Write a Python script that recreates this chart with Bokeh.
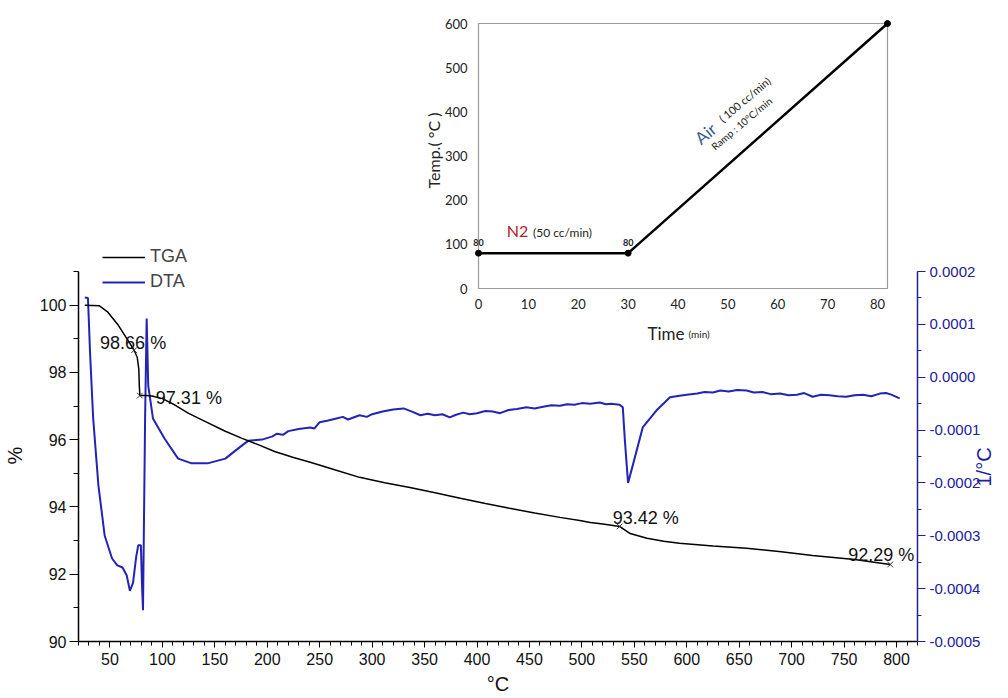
import math
from bokeh.plotting import figure
from bokeh.models import (Range1d, LinearAxis, SingleIntervalTicker, FixedTicker,
                          PrintfTickFormatter, Legend, LegendItem)
from bokeh.core.properties import value
from bokeh.embed import file_html
from bokeh.resources import INLINE

# ---------------- data ----------------
tga_temp = [26, 40, 48, 58, 67, 73, 76, 77.5, 78, 78.5, 85, 90, 100, 112, 125, 143.5, 160, 176,
            193, 207, 225, 241, 265, 288, 312, 336, 360, 384, 408, 431, 455, 479, 498, 508, 520,
            536, 546, 562, 578, 593, 625, 657, 690, 720, 760, 794]
tga_pct = [100.0, 99.98, 99.79, 99.40, 98.96, 98.66, 98.45, 98.1, 97.6, 97.31, 97.31, 97.30,
           97.22, 97.03, 96.78, 96.50, 96.25, 96.04, 95.83, 95.65, 95.47, 95.33, 95.10, 94.88,
           94.72, 94.58, 94.42, 94.26, 94.10, 93.96, 93.82, 93.69, 93.60, 93.54, 93.49, 93.42,
           93.21, 93.07, 92.98, 92.92, 92.84, 92.77, 92.67, 92.56, 92.44, 92.29]

dta_temp = [26, 29, 30, 31, 34, 39, 45, 52, 57, 62, 66, 69, 72, 75, 77, 79.5, 80.5, 81.5, 83.5,
            85, 86.5, 91, 102, 115, 128, 143, 160, 176, 182, 195, 205, 209, 215, 220, 230, 241,
            245, 250, 258, 266, 272, 277, 288, 295, 300, 310, 320, 330, 338, 346, 353, 360, 367,
            374, 380, 387, 393, 400, 408, 415, 422, 430, 438, 447, 455, 463, 471, 479, 486, 493,
            500, 508, 517, 523, 528, 536, 539, 541, 544, 549, 558, 571, 584, 593, 600, 610, 617,
            625, 632, 640, 648, 657, 664, 672, 680, 689, 697, 705, 712, 720, 728, 736, 744, 752,
            760, 768, 776, 784, 790, 795, 803]
dta_val = [1.51e-4, 1.50e-4, 1.0e-4, 0.47e-4, -0.78e-4, -2.05e-4, -3.0e-4, -3.43e-4, -3.56e-4,
           -3.60e-4, -3.75e-4, -4.04e-4, -3.89e-4, -3.4e-4, -3.18e-4, -3.18e-4, -3.9e-4, -4.41e-4,
           -0.78e-4, 1.11e-4, -0.16e-4, -0.78e-4, -1.16e-4, -1.54e-4, -1.63e-4, -1.63e-4,
           -1.54e-4, -1.29e-4, -1.20e-4, -1.18e-4, -1.12e-4, -1.07e-4, -1.09e-4, -1.02e-4,
           -0.98e-4, -0.95e-4, -0.97e-4, -0.85e-4, -0.82e-4, -0.78e-4, -0.75e-4, -0.80e-4,
           -0.72e-4, -0.75e-4, -0.70e-4, -0.65e-4, -0.61e-4, -0.59e-4, -0.65e-4, -0.72e-4,
           -0.69e-4, -0.72e-4, -0.70e-4, -0.76e-4, -0.71e-4, -0.67e-4, -0.70e-4, -0.68e-4,
           -0.64e-4, -0.65e-4, -0.68e-4, -0.62e-4, -0.60e-4, -0.57e-4, -0.59e-4, -0.56e-4,
           -0.53e-4, -0.54e-4, -0.51e-4, -0.52e-4, -0.49e-4, -0.50e-4, -0.48e-4, -0.51e-4,
           -0.50e-4, -0.52e-4, -0.57e-4, -1.2e-4, -2.0e-4, -1.63e-4, -0.95e-4, -0.63e-4,
           -0.38e-4, -0.35e-4, -0.33e-4, -0.31e-4, -0.28e-4, -0.29e-4, -0.25e-4, -0.27e-4,
           -0.24e-4, -0.25e-4, -0.29e-4, -0.28e-4, -0.32e-4, -0.31e-4, -0.34e-4, -0.33e-4,
           -0.30e-4, -0.37e-4, -0.33e-4, -0.34e-4, -0.36e-4, -0.37e-4, -0.34e-4, -0.33e-4,
           -0.36e-4, -0.31e-4, -0.30e-4, -0.33e-4, -0.40e-4]

mark_temp = [73, 78.5, 536, 794]
mark_pct = [98.66, 97.31, 93.42, 92.29]
mark_text = ["98.66 %", "97.31 %", "93.42 %", "92.29 %"]

prog_time = [0, 30, 82]
prog_temp = [80, 80, 600]
prog_point_text = ["80", "80"]

inset_y_ticks = [0, 100, 200, 300, 400, 500, 600]
inset_x_ticks = [0, 10, 20, 30, 40, 50, 60, 70, 80]

# ---------------- layout constants ----------------
W, H = 1008, 698
FL, FR, FT, FB = 78, 917, 10, 641          # main frame pixel edges
X0, X1 = 20, 820
Y0, YAX = 90, 101
YAX_TOP_PX = 271
D0, DAX = -0.0005, 0.0002
IL, IR, IT, IB = 478, 887, 23, 288          # inset frame pixel edges
IX0, IX1, IY0, IY1 = 0, 82, 0, 600

BLUE = "#2323b5"
AXBLUE = "#20209c"
MAIN_FONT = "Liberation Sans"
INSET_FONT = "Lato"

sx = (FR - FL) / (X1 - X0)
sy = (FB - YAX_TOP_PX) / (YAX - Y0)
y_end = YAX + (YAX_TOP_PX - FT) / sy
sd = (FB - YAX_TOP_PX) / (DAX - D0)
d_end = DAX + (YAX_TOP_PX - FT) / sd
isx = (IR - IL) / (IX1 - IX0)
isy = (IB - IT) / (IY1 - IY0)
ix_start = IX0 - (IL - FL) / isx
ix_end = IX1 + (FR - IR) / isx
iy_start = IY0 - (FB - IB) / isy
iy_end = IY1 + (IT - FT) / isy


def my(py):
    return Y0 + (FB - py) / sy


def dy(py):
    return D0 + (FB - py) / sd


def ixp(px):
    return IX0 + (px - IL) / isx


def iyp(py):
    return IY0 + (IB - py) / isy


p = figure(width=W, height=H, x_range=Range1d(X0, X1), y_range=Range1d(Y0, y_end),
           output_backend="svg", toolbar_location=None,
           min_border_left=FL, min_border_right=W - FR, min_border_top=FT,
           min_border_bottom=H - FB)
p.extra_y_ranges = {"dta": Range1d(D0, d_end), "iy": Range1d(iy_start, iy_end)}
p.extra_x_ranges = {"ix": Range1d(ix_start, ix_end)}
p.grid.visible = False
p.outline_line_color = None
p.background_fill_color = "white"
p.border_fill_color = "white"

# bottom axis
xa = p.xaxis[0]
xa.ticker = SingleIntervalTicker(interval=50, num_minor_ticks=5)
xa.axis_line_width = 1.5
xa.major_tick_out = 6
xa.major_tick_in = 0
xa.minor_tick_out = 4
xa.minor_tick_in = 0
xa.major_label_standoff = 5
xa.major_label_text_font = MAIN_FONT
xa.major_label_text_font_size = "16px"
xa.major_label_text_color = "#111111"
xa.axis_label = "°C"
xa.axis_label_standoff = 5
xa.axis_label_text_font = MAIN_FONT
xa.axis_label_text_font_size = "20px"
xa.axis_label_text_font_style = "normal"
xa.axis_label_text_color = "#111111"

# left axis
ya = p.yaxis[0]
ya.ticker = SingleIntervalTicker(interval=2, num_minor_ticks=2)
ya.bounds = (Y0, YAX)
ya.axis_line_width = 1.5
ya.major_tick_out = 9
ya.major_tick_in = 0
ya.minor_tick_out = 5
ya.minor_tick_in = 0
ya.major_label_standoff = 3
ya.major_label_text_font = MAIN_FONT
ya.major_label_text_font_size = "16px"
ya.major_label_text_color = "#111111"

# right axis
ra = LinearAxis(y_range_name="dta",
                ticker=SingleIntervalTicker(interval=0.0001, num_minor_ticks=2),
                formatter=PrintfTickFormatter(format="%.4f"), bounds=(D0, DAX))
ra.axis_line_color = AXBLUE
ra.axis_line_width = 1.5
ra.major_tick_line_color = AXBLUE
ra.minor_tick_line_color = AXBLUE
ra.major_tick_out = 8
ra.major_tick_in = 0
ra.minor_tick_out = 4
ra.minor_tick_in = 0
ra.major_label_standoff = 4
ra.major_label_text_font = MAIN_FONT
ra.major_label_text_font_size = "15px"
ra.major_label_text_color = AXBLUE
p.add_layout(ra, "right")


# axis titles: one-tick axes so that each title sits where the reference shows it
def title_axis(range_name, tick, text, color, orientation, standoff):
    ax = LinearAxis(y_range_name=range_name, ticker=FixedTicker(ticks=[tick], minor_ticks=[]),
                    major_label_overrides={tick: text})
    ax.axis_line_color = None
    ax.major_tick_line_color = None
    ax.minor_tick_line_color = None
    ax.major_tick_out = 0
    ax.major_tick_in = 0
    ax.minor_tick_out = 0
    ax.minor_tick_in = 0
    ax.major_label_standoff = standoff
    ax.major_label_orientation = orientation
    ax.major_label_text_font = MAIN_FONT
    ax.major_label_text_font_size = "20px"
    ax.major_label_text_color = color
    return ax


p.add_layout(title_axis("default", my(455), "%", "#111111", "vertical", 11), "left")
p.add_layout(title_axis("dta", dy(486), "1/°C", AXBLUE, math.pi / 2, 0), "right")

# curves
r_dta = p.line(dta_temp, dta_val, y_range_name="dta", line_color=BLUE, line_width=2)
r_tga = p.line(tga_temp, tga_pct, line_color="black", line_width=1.5)
p.scatter(mark_temp, mark_pct, marker="x", size=8, line_color="#333333", line_width=1)
p.text(x=mark_temp, y=mark_pct, text=mark_text,
       x_offset=[-34, 16, -7, -42], y_offset=[-7, 2, -8, -9],
       text_font=value(MAIN_FONT), text_font_size="18px", text_color="#111111",
       text_align="left", text_baseline="alphabetic")

# legend
legend = Legend(items=[LegendItem(label="TGA", renderers=[r_tga]),
                       LegendItem(label="DTA", renderers=[r_dta])],
                location=(24, 349), padding=0, margin=0, spacing=4,
                glyph_width=43, glyph_height=20, label_standoff=5,
                label_text_font=MAIN_FONT, label_text_font_size="18px",
                border_line_color=None, background_fill_alpha=0)
p.add_layout(legend)

# ---------------- inset ----------------
p.quad(left=[IX0], right=[IX1], bottom=[IY0], top=[IY1], x_range_name="ix", y_range_name="iy",
       fill_color="white", line_color="#9a9a9a", line_width=1.2)
p.line(prog_time, prog_temp, x_range_name="ix", y_range_name="iy", line_color="black",
       line_width=2.5)
p.scatter(prog_time, prog_temp, x_range_name="ix", y_range_name="iy", size=6, color="black")
p.text(x=prog_time[:2], y=prog_temp[:2], text=prog_point_text, x_range_name="ix",
       y_range_name="iy", y_offset=-7, text_align="center", text_baseline="bottom",
       text_font=value(INSET_FONT), text_font_size="9px", text_font_style="bold",
       text_color="#222222")
p.text(x=[IX0] * len(inset_y_ticks), y=inset_y_ticks, text=[str(v) for v in inset_y_ticks],
       x_range_name="ix", y_range_name="iy", x_offset=-11, text_align="right",
       text_baseline="middle", text_font=value(INSET_FONT), text_font_size="13px",
       text_color="#222222")
p.text(x=inset_x_ticks, y=[IY0] * len(inset_x_ticks), text=[str(v) for v in inset_x_ticks],
       x_range_name="ix", y_range_name="iy", y_offset=10, text_align="center",
       text_baseline="top", text_font=value(INSET_FONT), text_font_size="13px",
       text_color="#222222")
p.text(x=[ixp(433)], y=[iyp(150)], text=["Temp.( °C )"], x_range_name="ix", y_range_name="iy",
       angle=math.pi / 2, text_align="center", text_baseline="middle",
       text_font=value(INSET_FONT), text_font_size="16px", text_color="#222222")
p.text(x=[ixp(684)], y=[iyp(333)], text=["Time"], x_range_name="ix", y_range_name="iy",
       text_align="right", text_baseline="alphabetic", text_font=value(INSET_FONT),
       text_font_size="17px", text_color="#222222")
p.text(x=[ixp(688)], y=[iyp(333)], text=["(min)"], x_range_name="ix", y_range_name="iy",
       text_align="left", text_baseline="alphabetic", text_font=value(INSET_FONT),
       text_font_size="10px", text_color="#222222")
p.text(x=[ixp(517)], y=[iyp(230)], text=["N2"], x_range_name="ix", y_range_name="iy",
       text_align="center", text_baseline="middle", text_font=value(INSET_FONT),
       text_font_size="16px", text_color="#b3202a")
p.text(x=[ixp(562)], y=[iyp(232)], text=["(50 cc/min)"], x_range_name="ix", y_range_name="iy",
       text_align="center", text_baseline="middle", text_font=value(INSET_FONT),
       text_font_size="12px", text_color="#222222")
ANG = math.radians(40)
p.text(x=[ixp(705)], y=[iyp(133)], text=["Air"], x_range_name="ix", y_range_name="iy",
       angle=ANG, text_align="center", text_baseline="middle", text_font=value(INSET_FONT),
       text_font_size="17px", text_color="#3b5c8f")
p.text(x=[ixp(744)], y=[iyp(99)], text=["( 100 cc/min)"], x_range_name="ix",
       y_range_name="iy", angle=ANG, text_align="center", text_baseline="middle",
       text_font=value(INSET_FONT), text_font_size="11px", text_color="#222222")
p.text(x=[ixp(741)], y=[iyp(123)], text=["Ramp : 10°C/min"], x_range_name="ix",
       y_range_name="iy", angle=ANG, text_align="center", text_baseline="middle",
       text_font=value(INSET_FONT), text_font_size="10px", text_color="#222222")

open("out.html", "w").write(file_html(p, INLINE))
